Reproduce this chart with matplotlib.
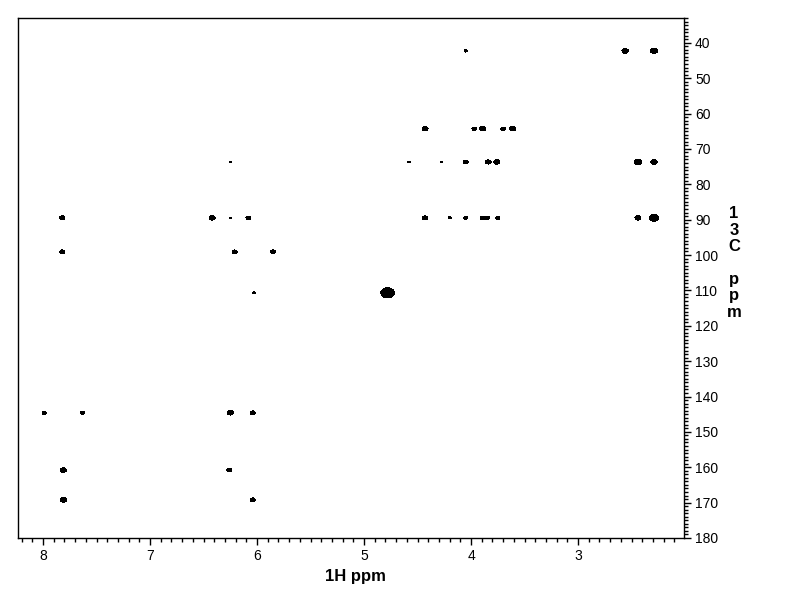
import matplotlib
matplotlib.use('Agg')
import matplotlib.pyplot as plt
from matplotlib.ticker import MultipleLocator
import numpy as np

plt.rcParams['font.family'] = ['Liberation Sans', 'DejaVu Sans']

# HMBC cross peaks: 1H shift, 13C shift, relative intensity
h_ppm = [4.05, 2.56, 2.29,
         4.43, 3.97, 3.89, 3.70, 3.61,
         6.25, 4.58, 4.28, 4.05, 3.84, 3.76, 2.44, 2.29,
         7.82, 6.42, 6.25, 6.08, 4.43, 4.20, 4.05, 3.90, 3.85, 3.75, 2.44, 2.29,
         7.82, 6.21, 5.85,
         4.78, 6.03,
         7.99, 7.63, 6.25, 6.04,
         7.81, 6.26,
         7.81, 6.04]
c_ppm = [42.3, 42.3, 42.3,
         64.3, 64.3, 64.3, 64.3, 64.3,
         73.7, 73.7, 73.7, 73.7, 73.7, 73.7, 73.7, 73.7,
         89.5, 89.5, 89.5, 89.5, 89.5, 89.5, 89.5, 89.5, 89.5, 89.5, 89.5, 89.5,
         99.1, 99.1, 99.1,
         110.7, 110.7,
         144.6, 144.6, 144.6, 144.6,
         160.8, 160.8,
         169.2, 169.2]
intensity = [1.3, 3.0, 3.8,
             2.7, 1.8, 2.7, 1.8, 2.7,
             1.1, 1.15, 1.15, 2.0, 2.3, 2.7, 4.5, 3.0,
             2.2, 2.7, 1.12, 2.0, 2.2, 1.3, 1.6, 1.4, 1.8, 1.6, 2.7, 9.0,
             2.0, 2.0, 2.0,
             150.0, 1.25,
             1.6, 1.6, 2.7, 2.0,
             2.8, 2.0,
             3.0, 2.0]

x_lim = (8.234, 2.01)
y_lim = (180, 33.0)

fig = plt.figure(figsize=(7.92, 6.12), dpi=100)
ax = fig.add_axes([18 / 792, 1 - 538 / 612, 666 / 792, 520 / 612])

# build the 2D map and contour at one level
xs = np.linspace(x_lim[1], x_lim[0], 2000)
ys = np.linspace(y_lim[1], y_lim[0], 1600)
X, Y = np.meshgrid(xs, ys)
Z = np.zeros_like(X)
sx, sy = 0.02, 0.45
for h, c, a in zip(h_ppm, c_ppm, intensity):
    Z += a * np.exp(-((X - h) ** 2 / (2 * sx ** 2) + (Y - c) ** 2 / (2 * sy ** 2)))
ax.contourf(X, Y, Z, levels=[1.0, Z.max() + 1], colors='black', antialiased=False)

ax.set_xlim(*x_lim)
ax.set_ylim(*y_lim)

ax.yaxis.tick_right()
ax.xaxis.set_major_locator(MultipleLocator(1))
ax.xaxis.set_minor_locator(MultipleLocator(0.1))
ax.yaxis.set_minor_locator(MultipleLocator(1))
ax.set_yticks(np.arange(40, 181, 10))
ax.tick_params(which='major', direction='out', length=5, width=1, labelsize=10, pad=3)
ax.tick_params(which='minor', direction='out', length=3, width=1)
for s in ax.spines.values():
    s.set_linewidth(1)

fig.text(355 / 792, 1 - 577 / 612, '1H ppm', ha='center', va='center',
         fontsize=12, fontweight='bold')
fig.text(734 / 792, 1 - 263 / 612, '1\n3\nC\n\np\np\nm', ha='center', va='center',
         fontsize=12, fontweight='bold', linespacing=1.12)

fig.savefig('out.png', dpi=100)
